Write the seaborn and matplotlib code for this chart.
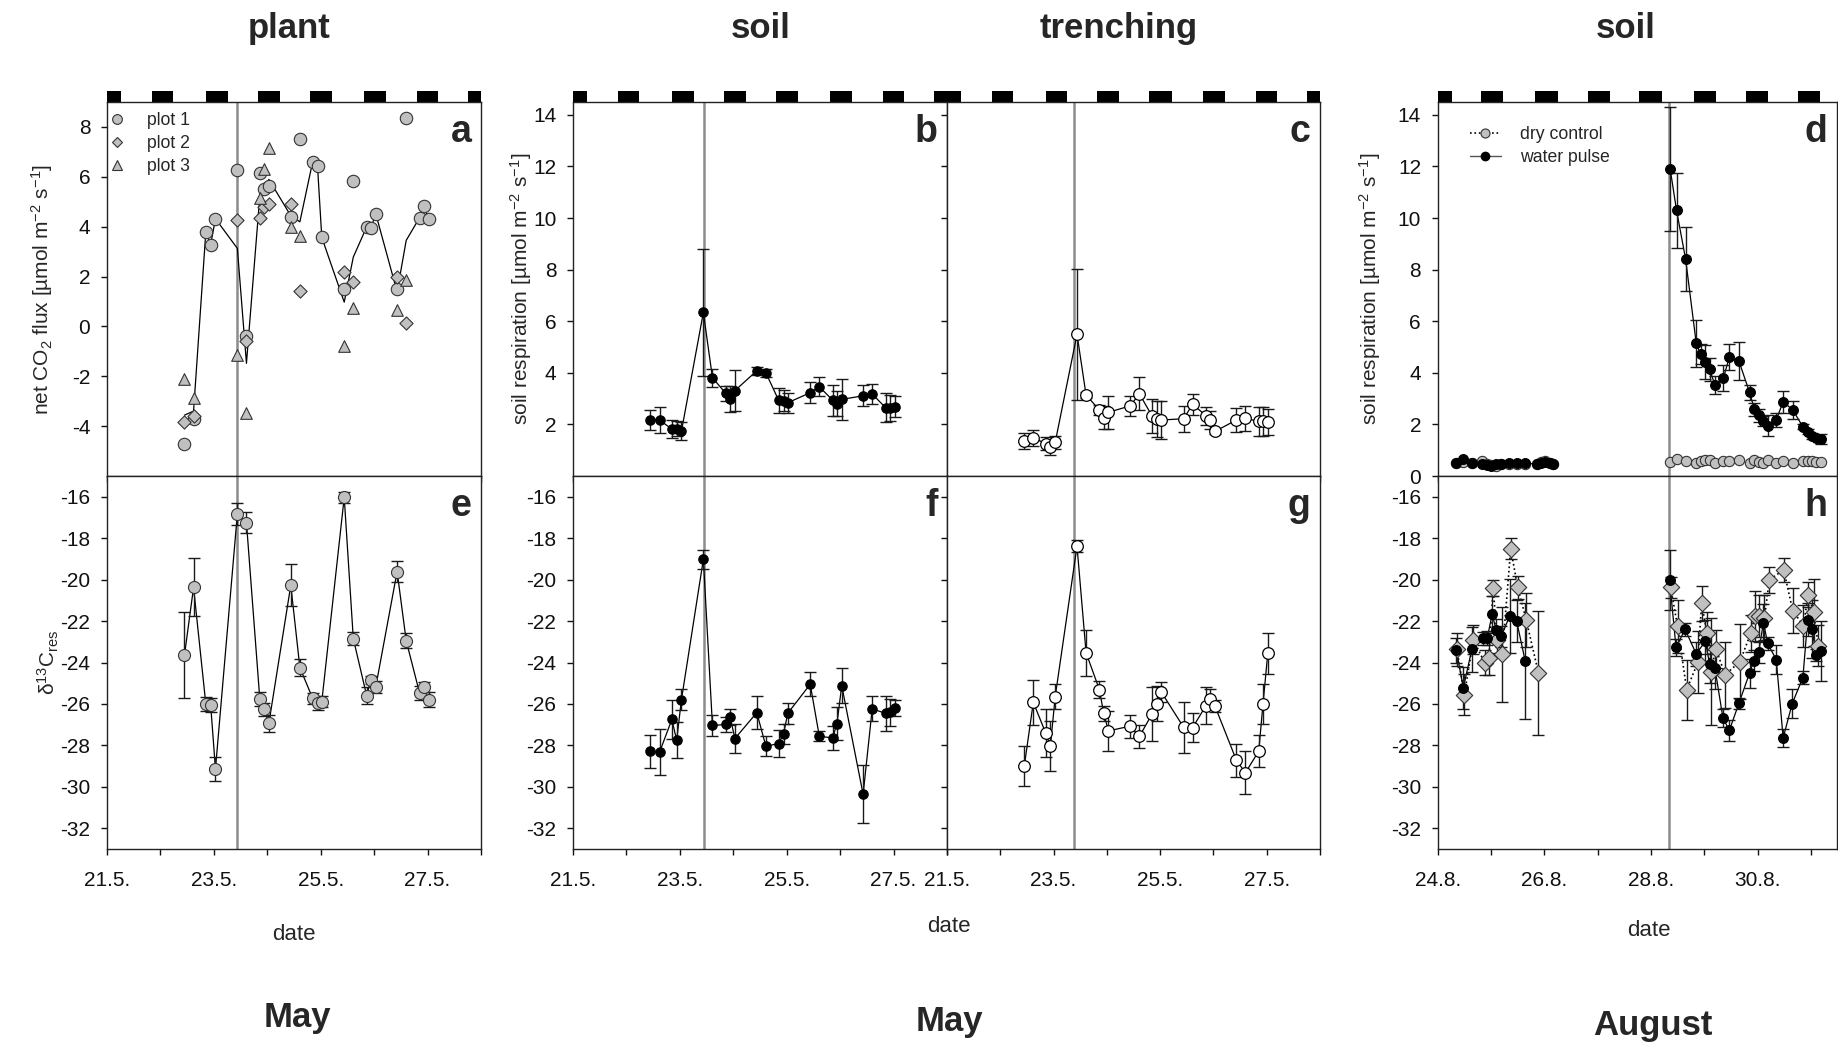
import numpy as np
import pandas as pd
import matplotlib
matplotlib.use("Agg")
import matplotlib.pyplot as plt
from matplotlib.patches import Rectangle
from matplotlib.lines import Line2D
import seaborn as sns

sns.set_style("ticks")
plt.rcParams['font.family'] = ['Liberation Sans', 'DejaVu Sans']
plt.rcParams['mathtext.fontset'] = 'custom'
plt.rcParams['mathtext.rm'] = 'Liberation Sans'
plt.rcParams['mathtext.it'] = 'Liberation Sans:italic'
plt.rcParams['mathtext.bf'] = 'Liberation Sans:bold'
plt.rcParams['axes.unicode_minus'] = False

# ---------------- data: May campaign ----------------
days_may = [22.45, 22.62, 22.85, 22.94, 23.03, 23.44, 23.61, 23.86, 23.94, 24.03,
            24.44, 24.61, 24.85, 24.94, 25.02, 25.44, 25.61, 25.86, 25.94, 26.03,
            26.43, 26.60, 26.85, 26.93, 27.02]
nan = np.nan
flux_plot1 = [-4.73, -3.71, 3.80, 3.28, 4.32, 6.28, -0.37, 6.16, 5.52, 5.63,
              4.40, 7.52, 6.61, 6.43, 3.57, 1.49, 5.83, 3.99, 3.95, 4.52,
              1.52, 8.36, 4.36, 4.83, 4.29]
flux_plot2 = [-3.84, -3.61, nan, nan, nan, 4.25, -0.60, 4.36, 4.79, 4.89,
              4.92, 1.43, nan, nan, nan, 2.20, 1.79, nan, nan, nan,
              1.99, 0.12, nan, nan, nan]
flux_plot3 = [-2.11, -2.87, nan, nan, nan, -1.15, -3.47, 5.16, 6.33, 7.16,
              3.99, 3.63, nan, nan, nan, -0.77, 0.72, nan, nan, nan,
              0.65, 1.87, nan, nan, nan]

d13c_plant = [-23.64, -20.38, -26.01, -26.05, -29.14, -16.83, -17.25, -25.76, -26.26, -26.93,
              -20.27, -24.25, -25.73, -25.95, -25.89, -16.03, -22.85, -25.60, -24.83, -25.18,
              -19.61, -22.95, -25.47, -25.18, -25.79]
d13c_plant_se = [2.08, 1.4, 0.35, 0.35, 0.6, 0.55, 0.5, 0.35, 0.3, 0.4,
                 1.0, 0.4, 0.25, 0.35, 0.25, 0.28, 0.3, 0.4, 0.2, 0.3,
                 0.5, 0.35, 0.35, 0.25, 0.35]

resp_soil = [2.17, 2.17, 1.82, 1.84, 1.74, 6.34, 3.81, 3.20, 2.97, 3.31,
             4.08, 4.00, 2.93, 2.92, 2.84, 3.23, 3.46, 2.94, 2.81, 2.97,
             3.11, 3.18, 2.65, 2.65, 2.69]
resp_soil_se = [0.39, 0.5, 0.36, 0.3, 0.36, 2.46, 0.35, 0.3, 0.5, 0.8,
                0.15, 0.15, 0.47, 0.4, 0.38, 0.4, 0.36, 0.6, 0.5, 0.8,
                0.4, 0.4, 0.55, 0.5, 0.42]
resp_trench = [1.35, 1.48, 1.26, 1.13, 1.30, 5.49, 3.14, 2.56, 2.26, 2.47,
               2.72, 3.19, 2.32, 2.22, 2.17, 2.22, 2.78, 2.34, 2.16, 1.73,
               2.17, 2.23, 2.12, 2.12, 2.08]
resp_trench_se = [0.3, 0.3, 0.25, 0.3, 0.25, 2.55, 0.1, 0.2, 0.45, 0.65,
                  0.4, 0.65, 0.65, 0.7, 0.75, 0.5, 0.4, 0.35, 0.35, 0.1,
                  0.45, 0.5, 0.55, 0.55, 0.5]
d13c_soil = [-28.28, -28.33, -26.75, -27.75, -25.79, -19.02, -27.04, -26.99, -26.62, -27.67,
             -26.42, -28.04, -27.91, -27.44, -26.45, -25.05, -27.56, -27.64, -26.95, -25.12,
             -30.36, -26.24, -26.45, -26.40, -26.19]
d13c_soil_se = [0.79, 1.1, 0.96, 0.87, 0.5, 0.45, 0.5, 0.35, 0.4, 0.7,
                0.8, 0.48, 0.65, 0.48, 0.5, 0.57, 0.25, 0.57, 0.8, 0.85,
                1.4, 0.6, 0.85, 0.65, 0.4]
d13c_trench = [-29.0, -25.92, -27.39, -28.04, -25.66, -18.39, -23.53, -25.31, -26.45, -27.30,
               -27.07, -27.57, -26.48, -25.98, -25.42, -27.12, -27.14, -26.08, -25.76, -26.11,
               -28.71, -29.32, -28.28, -26.01, -23.56]
d13c_trench_se = [0.96, 1.08, 1.15, 1.2, 0.6, 0.3, 1.12, 0.4, 0.35, 0.95,
                  0.55, 0.55, 1.3, 0.85, 0.5, 1.23, 0.68, 0.9, 0.5, 0.3,
                  0.8, 1.04, 0.76, 0.98, 1.0]

pulse_may = [23.44, 23.445, 23.38]   # plant, soil, trenching
night_start_may = [20.80, 21.84, 22.85, 23.82, 24.80, 25.81, 26.80, 27.76]
night_end_may = [21.27, 22.24, 23.26, 24.23, 25.22, 26.22, 27.20, 28.20]

# ---------------- data: August campaign ----------------
days_aug_pre = [24.34, 24.48, 24.64, 24.84, 24.92, 25.00, 25.09, 25.18, 25.34, 25.48,
                25.63, 25.86, 25.93, 26.02, 26.10, 26.17]
resp_water_pre = [0.49, 0.64, 0.52, 0.45, 0.42, 0.38, 0.45, 0.47, 0.49, 0.49,
                  0.49, 0.47, 0.49, 0.55, 0.52, 0.45]
resp_dry_pre = [0.50, 0.55, 0.50, 0.58, 0.48, 0.42, 0.40, 0.45, 0.48, 0.47,
                0.48, 0.45, 0.55, 0.60, 0.50, 0.45]
days_aug_post = [28.36, 28.48, 28.65, 28.85, 28.93, 29.02, 29.10, 29.20, 29.36, 29.47,
                 29.65, 29.85, 29.94, 30.02, 30.11, 30.19, 30.35, 30.48, 30.66, 30.85,
                 30.94, 31.02, 31.10, 31.19]
resp_water_post = [11.91, 10.30, 8.41, 5.14, 4.73, 4.43, 4.13, 3.53, 3.81, 4.60,
                   4.46, 3.24, 2.59, 2.36, 2.14, 1.95, 2.17, 2.88, 2.56, 1.91,
                   1.72, 1.55, 1.48, 1.43]
resp_water_post_se = [2.4, 1.45, 1.25, 0.9, 0.4, 0.65, 0.45, 0.35, 0.5, 0.5,
                      0.75, 0.3, 0.25, 0.25, 0.2, 0.41, 0.28, 0.42, 0.35, 0.1,
                      0.1, 0.1, 0.1, 0.18]
resp_dry_post = [0.53, 0.64, 0.58, 0.51, 0.58, 0.62, 0.62, 0.49, 0.59, 0.58,
                 0.62, 0.51, 0.62, 0.55, 0.49, 0.62, 0.49, 0.58, 0.51, 0.58,
                 0.58, 0.58, 0.55, 0.55]

days_h_dry_pre = [24.36, 24.50, 24.67, 24.88, 24.96, 25.04, 25.12, 25.21, 25.37, 25.50, 25.66, 25.89]
d13c_dry_pre = [-23.37, -25.55, -22.90, -24.01, -23.80, -20.40, -22.93, -23.61, -18.50, -20.38, -21.94, -24.51]
d13c_dry_pre_se = [0.8, 1.0, 0.7, 0.6, 0.8, 0.4, 0.6, 2.3, 0.5, 0.56, 1.3, 3.0]
days_h_water_pre = [24.35, 24.48, 24.64, 24.85, 24.93, 25.02, 25.10, 25.19, 25.35, 25.48, 25.64]
d13c_water_pre = [-23.40, -25.23, -23.37, -22.84, -22.82, -21.68, -22.44, -22.74, -21.76, -21.99, -23.91]
d13c_water_pre_se = [0.6, 1.0, 1.1, 0.3, 0.35, 0.9, 0.55, 0.5, 1.8, 1.0, 2.8]
days_h_water_post = [28.35, 28.47, 28.64, 28.85, 29.02, 29.10, 29.20, 29.35, 29.47, 29.65,
                     29.85, 29.93, 30.02, 30.11, 30.19, 30.35, 30.48, 30.65, 30.85, 30.94,
                     31.02, 31.10, 31.19]
d13c_water_post = [-20.03, -23.27, -22.40, -23.59, -22.97, -24.07, -24.27, -26.67, -27.28, -25.97,
                   -24.51, -23.91, -23.51, -22.07, -23.08, -23.86, -27.64, -25.98, -24.73, -21.94,
                   -22.36, -23.64, -23.43]
d13c_water_post_se = [1.45, 0.4, 0.3, 0.6, 1.0, 0.9, 1.0, 0.45, 0.5, 0.25,
                      0.7, 0.5, 0.5, 0.9, 0.3, 0.7, 0.45, 0.7, 0.3, 0.8,
                      1.4, 0.3, 1.45]
days_h_dry_post = [28.37, 28.50, 28.67, 28.88, 28.95, 29.05, 29.12, 29.22, 29.39, 29.67,
                   29.87, 29.95, 30.03, 30.13, 30.22, 30.49, 30.66, 30.86, 30.95, 31.05, 31.14]
d13c_dry_post = [-20.38, -22.26, -25.31, -23.99, -21.14, -22.58, -24.44, -23.35, -24.59, -23.96,
                 -22.60, -21.75, -21.75, -21.83, -20.01, -19.53, -21.50, -22.23, -20.72, -21.58, -23.19]
d13c_dry_post_se = [0.5, 1.3, 1.45, 1.5, 0.85, 1.0, 2.6, 0.9, 1.6, 1.8,
                    0.9, 1.2, 1.0, 1.1, 0.64, 0.58, 1.1, 1.0, 0.6, 1.6, 1.0]

pulse_aug = 28.33
night_start_aug = [23.80, 24.81, 25.83, 26.81, 27.78, 28.81, 29.78, 30.76]
night_end_aug = [24.26, 25.23, 26.25, 27.23, 28.20, 29.22, 30.20, 31.18]

may_ticks = [21, 22, 23, 24, 25, 26, 27, 28]
may_labels = ["21.5.", "", "23.5.", "", "25.5.", "", "27.5.", ""]
aug_ticks = [24, 25, 26, 27, 28, 29, 30, 31]
aug_labels = ["24.8.", "", "26.8.", "", "28.8.", "", "30.8.", ""]

# ---------------- figure ----------------
W, H = 1838, 1045
fig = plt.figure(figsize=(W / 100, H / 100), dpi=100)

def box(x0, y0, x1, y1):
    return [x0 / W, 1 - y1 / H, (x1 - x0) / W, (y1 - y0) / H]

ax_a = fig.add_axes(box(107, 102, 481, 476))
ax_b = fig.add_axes(box(573, 102, 947, 476))
ax_c = fig.add_axes(box(947, 102, 1320, 476))
ax_d = fig.add_axes(box(1437.7, 102, 1837, 476))
ax_e = fig.add_axes(box(107, 476, 481, 849))
ax_f = fig.add_axes(box(573, 476, 947, 849))
ax_g = fig.add_axes(box(947, 476, 1320, 849))
ax_h = fig.add_axes(box(1437.7, 476, 1837, 849))

GRAY = '#c0c0c0'
PULSE = '#8c8c8c'
EB = '#1a1a1a'

for ax in [ax_a, ax_b, ax_c, ax_d, ax_e, ax_f, ax_g, ax_h]:
    for sp in ax.spines.values():
        sp.set_visible(True)
        sp.set_linewidth(1.0)
        sp.set_color('#222222')
    ax.tick_params(direction='out', length=4, width=1, labelsize=15, colors='#111111')
    ax.tick_params(axis='x', pad=12)
    ax.tick_params(axis='y', pad=8)

for ax in [ax_a, ax_b, ax_c, ax_e, ax_f, ax_g]:
    ax.set_xlim(21, 28)
    ax.set_xticks(may_ticks)
    ax.set_xticklabels(may_labels)
for ax in [ax_d, ax_h]:
    ax.set_xlim(24, 31.49)
    ax.set_xticks(aug_ticks)
    ax.set_xticklabels(aug_labels)
for ax in [ax_a, ax_b, ax_c, ax_d]:
    ax.tick_params(labelbottom=False)

def errbars(ax, x, y, e, color=EB):
    ax.errorbar(x, y, yerr=e, fmt='none', ecolor=color, elinewidth=1.0,
                capsize=4, capthick=1.0, zorder=3)

def nights(ax, starts, ends):
    x0, x1 = ax.get_xlim()
    for s, e in zip(starts, ends):
        s2, e2 = max(s, x0), min(e, x1)
        if e2 > s2:
            ax.add_patch(Rectangle((s2, 1.0), e2 - s2, 0.029,
                                   transform=ax.get_xaxis_transform(),
                                   facecolor='black', edgecolor='none', clip_on=False))

# ---- panel a ----
df_a = pd.DataFrame({
    'day': days_may * 3,
    'flux': flux_plot1 + flux_plot2 + flux_plot3,
    'plot': ['plot 1'] * 25 + ['plot 2'] * 25 + ['plot 3'] * 25,
}).dropna()
ax_a.axvline(pulse_may[0], color=PULSE, lw=1.8, zorder=1)
sns.lineplot(data=df_a, x='day', y='flux', estimator='mean', errorbar=None,
             color='black', lw=0.9, ax=ax_a, zorder=2)
for name, mk, s in [('plot 1', 'o', 80), ('plot 2', 'D', 45), ('plot 3', '^', 70)]:
    sub = df_a[df_a['plot'] == name]
    sns.scatterplot(data=sub, x='day', y='flux', marker=mk, s=s, color=GRAY,
                    edgecolor='#333333', linewidth=0.8, ax=ax_a, zorder=4, legend=False)
ax_a.set_ylim(-6, 9)
ax_a.set_yticks([-4, -2, 0, 2, 4, 6, 8])
ax_a.set_ylabel('net CO$_2$ flux [µmol m$^{-2}$ s$^{-1}$]', fontsize=15)
ax_a.yaxis.set_label_coords(-0.139, 0.5)
handles = [Line2D([], [], ls='none', marker='o', ms=7, mfc=GRAY, mec='#333333', mew=0.8),
           Line2D([], [], ls='none', marker='D', ms=5.5, mfc=GRAY, mec='#333333', mew=0.8),
           Line2D([], [], ls='none', marker='^', ms=7, mfc=GRAY, mec='#333333', mew=0.8)]
ax_a.legend(handles, ['plot 1', 'plot 2', 'plot 3'], loc='upper left',
            bbox_to_anchor=(-0.02, 0.992), frameon=False, fontsize=12.7,
            handlelength=1.2, handletextpad=1.12, labelspacing=0.33, borderaxespad=0.0)

# ---- panels b, c ----
for ax, vals, se, pul, face, s in [(ax_b, resp_soil, resp_soil_se, pulse_may[1], 'black', 45),
                                   (ax_c, resp_trench, resp_trench_se, pulse_may[2], 'white', 70)]:
    ax.axvline(pul, color=PULSE, lw=1.8, zorder=1)
    errbars(ax, days_may, vals, se)
    sns.lineplot(x=days_may, y=vals, color='black', lw=0.9, ax=ax, zorder=2)
    sns.scatterplot(x=days_may, y=vals, s=s, color=face, edgecolor='black',
                    linewidth=0.9, ax=ax, zorder=4, legend=False)
    ax.set_ylim(0, 14.5)
    ax.set_yticks([2, 4, 6, 8, 10, 12, 14])
ax_b.set_ylabel('soil respiration [µmol m$^{-2}$ s$^{-1}$]', fontsize=15)
ax_b.yaxis.set_label_coords(-0.104, 0.5)
ax_c.tick_params(labelleft=False)

# ---- panel d ----
ax_d.axvline(pulse_aug, color=PULSE, lw=1.8, zorder=1)
errbars(ax_d, days_aug_post, resp_water_post, resp_water_post_se)
for xs, ys in [(days_aug_pre, resp_dry_pre), (days_aug_post, resp_dry_post)]:
    sns.lineplot(x=xs, y=ys, color='black', lw=1.2, ls=':', ax=ax_d, zorder=2)
    sns.scatterplot(x=xs, y=ys, s=55, color=GRAY, edgecolor='#333333',
                    linewidth=0.8, ax=ax_d, zorder=4, legend=False)
for xs, ys in [(days_aug_pre, resp_water_pre), (days_aug_post, resp_water_post)]:
    sns.lineplot(x=xs, y=ys, color='black', lw=0.9, ax=ax_d, zorder=2)
    sns.scatterplot(x=xs, y=ys, s=50, color='black', edgecolor='black',
                    linewidth=0.8, ax=ax_d, zorder=5, legend=False)
ax_d.set_ylim(0, 14.5)
ax_d.set_yticks([0, 2, 4, 6, 8, 10, 12, 14])
ax_d.set_ylabel('soil respiration [µmol m$^{-2}$ s$^{-1}$]', fontsize=15)
ax_d.yaxis.set_label_coords(-0.138, 0.5)
hd = [Line2D([], [], color='black', ls=':', lw=1.2, marker='o', ms=6.5, mfc=GRAY, mec='#333333', mew=0.8),
      Line2D([], [], color='#555555', ls='-', lw=1.0, marker='o', ms=6, mfc='black', mec='black')]
ax_d.legend(hd, ['dry control', 'water pulse'], loc='upper left',
            bbox_to_anchor=(0.063, 0.955), frameon=False, fontsize=12.7,
            handlelength=1.75, handletextpad=1.1, labelspacing=0.33, borderaxespad=0.0)

# ---- panel e ----
ax_e.axvline(pulse_may[0], color=PULSE, lw=1.8, zorder=1)
errbars(ax_e, days_may, d13c_plant, d13c_plant_se)
sns.lineplot(x=days_may, y=d13c_plant, color='black', lw=0.9, ax=ax_e, zorder=2)
sns.scatterplot(x=days_may, y=d13c_plant, s=75, color=GRAY, edgecolor='#333333',
                linewidth=0.8, ax=ax_e, zorder=4, legend=False)
ax_e.set_ylabel(r'δ$^{13}$C$_{\mathrm{res}}$', fontsize=15)
ax_e.yaxis.set_label_coords(-0.123, 0.5)

# ---- panels f, g ----
for ax, vals, se, pul, face, s in [(ax_f, d13c_soil, d13c_soil_se, pulse_may[1], 'black', 45),
                                   (ax_g, d13c_trench, d13c_trench_se, pulse_may[2], 'white', 70)]:
    ax.axvline(pul, color=PULSE, lw=1.8, zorder=1)
    errbars(ax, days_may, vals, se)
    sns.lineplot(x=days_may, y=vals, color='black', lw=0.9, ax=ax, zorder=2)
    sns.scatterplot(x=days_may, y=vals, s=s, color=face, edgecolor='black',
                    linewidth=0.9, ax=ax, zorder=4, legend=False)
ax_g.tick_params(labelleft=False)

# ---- panel h ----
ax_h.axvline(pulse_aug, color=PULSE, lw=1.8, zorder=1)
for xs, ys, es in [(days_h_dry_pre, d13c_dry_pre, d13c_dry_pre_se),
                   (days_h_dry_post, d13c_dry_post, d13c_dry_post_se)]:
    errbars(ax_h, xs, ys, es)
    sns.lineplot(x=xs, y=ys, color='black', lw=1.2, ls=':', ax=ax_h, zorder=2)
    sns.scatterplot(x=xs, y=ys, s=70, marker='D', color=GRAY, edgecolor='#333333',
                    linewidth=0.8, ax=ax_h, zorder=4, legend=False)
for xs, ys, es in [(days_h_water_pre, d13c_water_pre, d13c_water_pre_se),
                   (days_h_water_post, d13c_water_post, d13c_water_post_se)]:
    errbars(ax_h, xs, ys, es)
    sns.lineplot(x=xs, y=ys, color='black', lw=0.9, ax=ax_h, zorder=2)
    sns.scatterplot(x=xs, y=ys, s=50, color='black', edgecolor='black',
                    linewidth=0.8, ax=ax_h, zorder=5, legend=False)

for ax in [ax_e, ax_f, ax_g, ax_h]:
    ax.set_ylim(-33, -15)
    ax.set_yticks([-32, -30, -28, -26, -24, -22, -20, -18, -16])
for ax in [ax_a, ax_b, ax_c, ax_d, ax_e, ax_f, ax_g, ax_h]:
    ax.set_xlabel('')
for ax in [ax_c, ax_f, ax_g, ax_h]:
    ax.set_ylabel('')

# night bars
for ax in [ax_a, ax_b, ax_c]:
    nights(ax, night_start_may, night_end_may)
nights(ax_d, night_start_aug, night_end_aug)

# panel letters
for ax, lt in zip([ax_a, ax_b, ax_c, ax_d, ax_e, ax_f, ax_g, ax_h], 'abcdefgh'):
    ax.text(0.975, 0.92, lt, transform=ax.transAxes, ha='right', va='center',
            fontsize=27, fontweight='bold')

# titles and labels
def ftext(x, y, s, **kw):
    fig.text(x / W, 1 - y / H, s, ha='center', va='center', **kw)

for x, s in [(289, 'plant'), (761, 'soil'), (1119, 'trenching'), (1626, 'soil')]:
    ftext(x, 29, s, fontsize=25, fontweight='bold')
ftext(294, 934, 'date', fontsize=16)
ftext(949, 926, 'date', fontsize=16)
ftext(1649, 930, 'date', fontsize=16)
ftext(297, 1017, 'May', fontsize=25, fontweight='bold')
ftext(949, 1021, 'May', fontsize=25, fontweight='bold')
ftext(1653, 1025, 'August', fontsize=25, fontweight='bold')

fig.savefig('out.png', dpi=100)
